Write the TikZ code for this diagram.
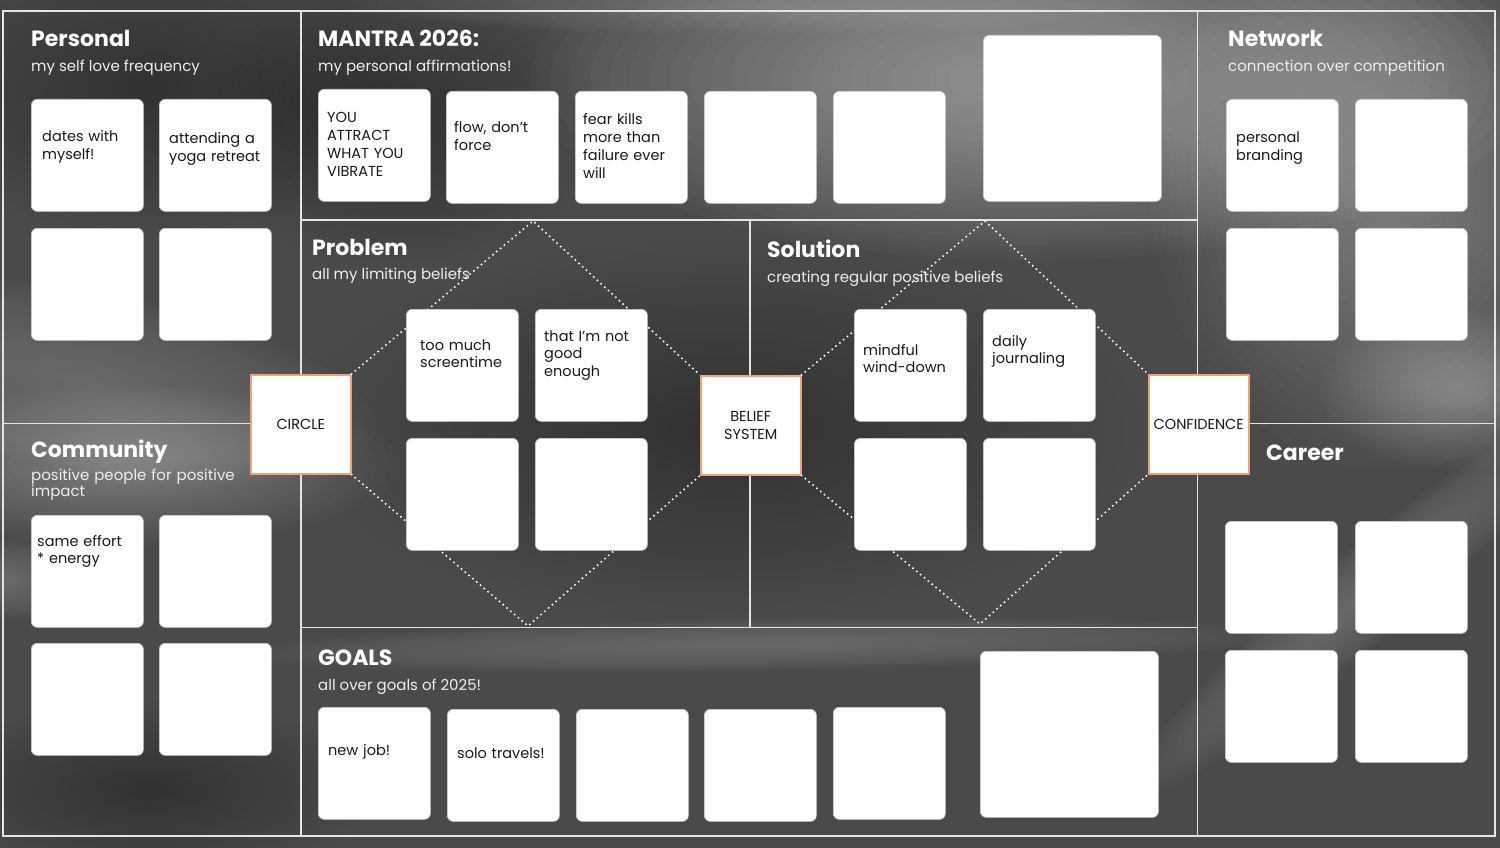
\documentclass[tikz,border=0pt]{standalone}
\usepackage{fontspec}
\setmainfont{Poppins}
\definecolor{bgbase}{RGB}{74,74,74}
\definecolor{frameline}{RGB}{228,228,228}
\definecolor{accent}{RGB}{240,160,122}
\definecolor{cardedge}{RGB}{205,205,205}
\definecolor{subtext}{RGB}{238,238,238}
\definecolor{cardtext}{RGB}{25,25,25}
\newcommand{\softblob}[7]{%
  \foreach \k in {0,...,23}{%
    \fill[#1, opacity=#7] (#2,#3) ellipse [x radius={#4*(1-\k/25)}, y radius={#5*(1-\k/25)}, rotate=#6];
  }}
\begin{document}
\begin{tikzpicture}[x=1pt,y=-1pt,
  frame/.style={draw=frameline, line width=1.3pt},
  dotline/.style={draw=white, line width=2.2pt, line cap=round, dash pattern=on 0pt off 5pt},
  card/.style={draw=cardedge, line width=0.7pt, fill=white, rounded corners=6pt, anchor=north west, inner sep=0pt, minimum width=112pt, minimum height=112pt},
  accentbox/.style={draw=accent, line width=1.5pt, fill=white, anchor=north west, inner sep=0pt, minimum width=100pt, minimum height=99pt, align=center, text=cardtext, font=\fontsize{14.5}{17.5}\selectfont},
  title/.style={font=\fontsize{22}{25}\selectfont\bfseries, text=white, anchor=base west, inner sep=0pt},
  sub/.style={font=\fontsize{15}{16.5}\selectfont, text=subtext, anchor=base west, inner sep=0pt},
  ctext/.style={font=\fontsize{14.5}{17.7}\selectfont, text=cardtext, anchor=base west, inner sep=0pt, text width=106pt, align=left}
]
\useasboundingbox (0,0) rectangle (1500,848);
\fill[bgbase] (0,0) rectangle (1500,848);
% background swooshes
\begin{scope}
\clip (0,0) rectangle (1500,848);
\softblob{white}{1030}{80}{500}{180}{0}{0.022}
\softblob{white}{1390}{190}{240}{280}{0}{0.016}
\softblob{white}{80}{380}{300}{90}{-10}{0.012}
\softblob{white}{120}{465}{280}{80}{0}{0.014}
\softblob{white}{1360}{600}{300}{45}{40}{0.011}
\softblob{white}{1460}{390}{140}{80}{0}{0.014}
\softblob{white}{760}{645}{520}{26}{1}{0.012}
\softblob{white}{10}{580}{60}{40}{0}{0.012}
\softblob{white}{760}{5}{400}{30}{0}{0.01}
\softblob{black}{150}{90}{260}{150}{0}{0.01}
\softblob{black}{720}{430}{420}{190}{0}{0.008}
\softblob{black}{150}{790}{230}{90}{0}{0.012}
\softblob{black}{400}{120}{200}{150}{0}{0.012}
\end{scope}
% frame lines
\draw[frame] (3,11) rectangle (1495,836);
\draw[frame] (301,11) -- (301,836);
\draw[frame] (1197.5,11) -- (1197.5,836);
\draw[frame] (3,423.5) -- (301,423.5);
\draw[frame] (1197.5,423.5) -- (1495,423.5);
\draw[frame] (301,220) -- (1197.5,220);
\draw[frame] (301,627.5) -- (1197.5,627.5);
\draw[frame] (750,220) -- (750,627.5);
% accent boxes
\node[accentbox] (circ) at (250,374) {CIRCLE};
\node[accentbox] (belief) at (700,375) {BELIEF\\SYSTEM};
\node[accentbox] (conf) at (1148,374) {CONFIDENCE};
% dotted diamonds
\coordinate (ptop) at (533,221);
\coordinate (pbot) at (528,626);
\coordinate (stop) at (985,221);
\coordinate (sbot) at (980,624);
\draw[dotline] (circ.north east) -- (ptop) -- (belief.north west);
\draw[dotline] (circ.south east) -- (pbot) -- (belief.south west);
\draw[dotline] (belief.north east) -- (stop) -- (conf.north west);
\draw[dotline] (belief.south east) -- (sbot) -- (conf.south west);
% cards: Personal
\node[card] (pe1) at (31,99) {};
\node[card] (pe2) at (159,99) {};
\node[card] (pe3) at (31,228) {};
\node[card] (pe4) at (159,228) {};
% Community
\node[card] (co1) at (31,515) {};
\node[card] (co2) at (159,515) {};
\node[card] (co3) at (31,643) {};
\node[card] (co4) at (159,643) {};
% Mantra
\node[card] (ma1) at (318,89) {};
\node[card] (ma2) at (446,91) {};
\node[card] (ma3) at (575,91) {};
\node[card] (ma4) at (704,91) {};
\node[card] (ma5) at (833,91) {};
\node[card, minimum width=178pt, minimum height=166pt] (ma6) at (983,35) {};
% Network
\node[card] (ne1) at (1226,99) {};
\node[card] (ne2) at (1355,99) {};
\node[card] (ne3) at (1226,228) {};
\node[card] (ne4) at (1355,228) {};
% Career
\node[card] (ca1) at (1225,521) {};
\node[card] (ca2) at (1355,521) {};
\node[card] (ca3) at (1225,650) {};
\node[card] (ca4) at (1355,650) {};
% Problem
\node[card] (pr1) at (406,309) {};
\node[card] (pr2) at (535,309) {};
\node[card] (pr3) at (406,438) {};
\node[card] (pr4) at (535,438) {};
% Solution
\node[card] (so1) at (854,309) {};
\node[card] (so2) at (983,309) {};
\node[card] (so3) at (854,438) {};
\node[card] (so4) at (983,438) {};
% Goals
\node[card] (go1) at (318,707) {};
\node[card] (go2) at (447,709) {};
\node[card] (go3) at (576,709) {};
\node[card] (go4) at (704,709) {};
\node[card] (go5) at (833,707) {};
\node[card, minimum width=178pt, minimum height=166pt] (go6) at (980,651) {};
% Texts: Personal
\node[title] (tpe) at (31,47) {Personal};
\node[sub] (spe) at (31,72) {my self love frequency};
\node[ctext] (xpe1) at (42,142) {dates with\\myself!};
\node[ctext] (xpe2) at (169,144) {attending a\\yoga retreat};
% Mantra
\node[title] (tma) at (318,47) {MANTRA 2026:};
\node[sub] (sma) at (318,72) {my personal affirmations!};
\node[ctext] (xma1) at (327,123) {YOU\\ATTRACT\\WHAT YOU\\VIBRATE};
\node[ctext] (xma2) at (454,133) {flow, don’t\\force};
\node[ctext] (xma3) at (583,125) {fear kills\\more than\\failure ever\\will};
% Network
\node[title] (tne) at (1228,47) {Network};
\node[sub] (sne) at (1228,72) {connection over competition};
\node[ctext] (xne1) at (1236,143) {personal\\branding};
% Problem
\node[title] (tpr) at (312,255) {Problem};
\node[sub] (spr) at (312,279) {all my limiting beliefs};
\node[ctext] (xpr1) at (420,350) {too much\\screentime};
\node[ctext] (xpr2) at (544,341) {that I’m not\\good\\enough};
% Solution
\node[title] (tso) at (767,257) {Solution};
\node[sub] (sso) at (767,282) {creating regular positive beliefs};
\node[ctext] (xso1) at (863,355) {mindful\\wind-down};
\node[ctext] (xso2) at (992,346) {daily\\journaling};
% Community
\node[title] (tco) at (31,457) {Community};
\node[sub, text width=240pt, align=left] (sco) at (31,480) {positive people for positive\\impact};
\node[ctext] (xco1) at (37,546) {same effort\\{}* energy};
% Career
\node[title] (tca) at (1266,460) {Career};
% Goals
\node[title] (tgo) at (318,665) {GOALS};
\node[sub] (sgo) at (318,690) {all over goals of 2025!};
\node[ctext] (xgo1) at (328,755) {new job!};
\node[ctext] (xgo2) at (457,758) {solo travels!};
\end{tikzpicture}
\end{document}
